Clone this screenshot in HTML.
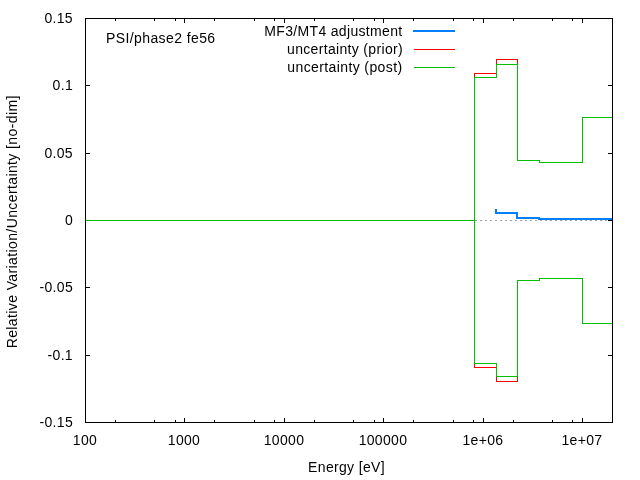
<!DOCTYPE html>
<html><head><meta charset="utf-8"><style>
html,body{margin:0;padding:0;background:#fff;width:640px;height:480px;overflow:hidden}
svg{display:block}
text{-webkit-font-smoothing:antialiased;font-family:"Liberation Sans",sans-serif;font-size:14px;letter-spacing:0.33px;fill:#000}
</style></head><body>
<svg width="640" height="480" viewBox="0 0 640 480" style="will-change:transform">
<rect width="640" height="480" fill="#fff"/>
<g shape-rendering="crispEdges">
<path d="M85 220.5H612" stroke="#a0a0a0" stroke-width="1" stroke-dasharray="2 3" fill="none"/>
<rect x="85" y="18" width="528" height="1" fill="#000"/>
<rect x="85" y="422" width="528" height="1" fill="#000"/>
<rect x="85" y="18" width="1" height="405" fill="#000"/>
<rect x="612" y="18" width="1" height="405" fill="#000"/>
<rect x="85" y="18" width="5" height="1" fill="#000"/>
<rect x="608" y="18" width="5" height="1" fill="#000"/>
<rect x="85" y="85" width="5" height="1" fill="#000"/>
<rect x="608" y="85" width="5" height="1" fill="#000"/>
<rect x="85" y="153" width="5" height="1" fill="#000"/>
<rect x="608" y="153" width="5" height="1" fill="#000"/>
<rect x="85" y="220" width="5" height="1" fill="#000"/>
<rect x="608" y="220" width="5" height="1" fill="#000"/>
<rect x="85" y="287" width="5" height="1" fill="#000"/>
<rect x="608" y="287" width="5" height="1" fill="#000"/>
<rect x="85" y="355" width="5" height="1" fill="#000"/>
<rect x="608" y="355" width="5" height="1" fill="#000"/>
<rect x="85" y="422" width="5" height="1" fill="#000"/>
<rect x="608" y="422" width="5" height="1" fill="#000"/>
<rect x="85" y="418" width="1" height="5" fill="#000"/>
<rect x="85" y="18" width="1" height="5" fill="#000"/>
<rect x="115" y="420" width="1" height="3" fill="#000"/>
<rect x="115" y="18" width="1" height="3" fill="#000"/>
<rect x="154" y="420" width="1" height="3" fill="#000"/>
<rect x="154" y="18" width="1" height="3" fill="#000"/>
<rect x="175" y="420" width="1" height="3" fill="#000"/>
<rect x="175" y="18" width="1" height="3" fill="#000"/>
<rect x="184" y="418" width="1" height="5" fill="#000"/>
<rect x="184" y="18" width="1" height="5" fill="#000"/>
<rect x="214" y="420" width="1" height="3" fill="#000"/>
<rect x="214" y="18" width="1" height="3" fill="#000"/>
<rect x="254" y="420" width="1" height="3" fill="#000"/>
<rect x="254" y="18" width="1" height="3" fill="#000"/>
<rect x="274" y="420" width="1" height="3" fill="#000"/>
<rect x="274" y="18" width="1" height="3" fill="#000"/>
<rect x="284" y="418" width="1" height="5" fill="#000"/>
<rect x="284" y="18" width="1" height="5" fill="#000"/>
<rect x="314" y="420" width="1" height="3" fill="#000"/>
<rect x="314" y="18" width="1" height="3" fill="#000"/>
<rect x="353" y="420" width="1" height="3" fill="#000"/>
<rect x="353" y="18" width="1" height="3" fill="#000"/>
<rect x="374" y="420" width="1" height="3" fill="#000"/>
<rect x="374" y="18" width="1" height="3" fill="#000"/>
<rect x="383" y="418" width="1" height="5" fill="#000"/>
<rect x="383" y="18" width="1" height="5" fill="#000"/>
<rect x="413" y="420" width="1" height="3" fill="#000"/>
<rect x="413" y="18" width="1" height="3" fill="#000"/>
<rect x="453" y="420" width="1" height="3" fill="#000"/>
<rect x="453" y="18" width="1" height="3" fill="#000"/>
<rect x="473" y="420" width="1" height="3" fill="#000"/>
<rect x="473" y="18" width="1" height="3" fill="#000"/>
<rect x="483" y="418" width="1" height="5" fill="#000"/>
<rect x="483" y="18" width="1" height="5" fill="#000"/>
<rect x="513" y="420" width="1" height="3" fill="#000"/>
<rect x="513" y="18" width="1" height="3" fill="#000"/>
<rect x="552" y="420" width="1" height="3" fill="#000"/>
<rect x="552" y="18" width="1" height="3" fill="#000"/>
<rect x="572" y="420" width="1" height="3" fill="#000"/>
<rect x="572" y="18" width="1" height="3" fill="#000"/>
<rect x="582" y="418" width="1" height="5" fill="#000"/>
<rect x="582" y="18" width="1" height="5" fill="#000"/>
<rect x="612" y="420" width="1" height="3" fill="#000"/>
<rect x="612" y="18" width="1" height="3" fill="#000"/>
<rect x="474" y="73" width="1" height="5" fill="#ff0000"/>
<rect x="474" y="73" width="23" height="1" fill="#ff0000"/>
<rect x="496" y="59" width="1" height="15" fill="#ff0000"/>
<rect x="496" y="59" width="22" height="1" fill="#ff0000"/>
<rect x="517" y="59" width="1" height="6" fill="#ff0000"/>
<rect x="474" y="363" width="1" height="5" fill="#ff0000"/>
<rect x="474" y="367" width="23" height="1" fill="#ff0000"/>
<rect x="496" y="367" width="1" height="15" fill="#ff0000"/>
<rect x="496" y="381" width="22" height="1" fill="#ff0000"/>
<rect x="517" y="376" width="1" height="6" fill="#ff0000"/>
<rect x="86" y="220" width="389" height="1" fill="#00c000"/>
<rect x="474" y="77" width="1" height="144" fill="#00c000"/>
<rect x="474" y="77" width="23" height="1" fill="#00c000"/>
<rect x="496" y="64" width="1" height="14" fill="#00c000"/>
<rect x="496" y="64" width="22" height="1" fill="#00c000"/>
<rect x="517" y="64" width="1" height="97" fill="#00c000"/>
<rect x="517" y="160" width="23" height="1" fill="#00c000"/>
<rect x="539" y="160" width="1" height="3" fill="#00c000"/>
<rect x="539" y="162" width="44" height="1" fill="#00c000"/>
<rect x="582" y="117" width="1" height="46" fill="#00c000"/>
<rect x="582" y="117" width="30" height="1" fill="#00c000"/>
<rect x="474" y="220" width="1" height="144" fill="#00c000"/>
<rect x="474" y="363" width="23" height="1" fill="#00c000"/>
<rect x="496" y="363" width="1" height="14" fill="#00c000"/>
<rect x="496" y="376" width="22" height="1" fill="#00c000"/>
<rect x="517" y="280" width="1" height="97" fill="#00c000"/>
<rect x="517" y="280" width="23" height="1" fill="#00c000"/>
<rect x="539" y="278" width="1" height="3" fill="#00c000"/>
<rect x="539" y="278" width="44" height="1" fill="#00c000"/>
<rect x="582" y="278" width="1" height="46" fill="#00c000"/>
<rect x="582" y="323" width="30" height="1" fill="#00c000"/>
<rect x="495" y="209" width="2" height="5" fill="#0080ff"/>
<rect x="495" y="212" width="23" height="2" fill="#0080ff"/>
<rect x="516" y="212" width="2" height="7" fill="#0080ff"/>
<rect x="516" y="217" width="24" height="2" fill="#0080ff"/>
<rect x="538" y="217" width="2" height="3" fill="#0080ff"/>
<rect x="538" y="218" width="74" height="2" fill="#0080ff"/>
<rect x="413" y="30" width="42" height="2" fill="#0080ff"/>
<rect x="414" y="49" width="41" height="1" fill="#ff0000"/>
<rect x="414" y="67" width="41" height="1" fill="#00c000"/>
</g>
<text x="73" y="23" text-anchor="end" >0.15</text>
<text x="73" y="90" text-anchor="end" >0.1</text>
<text x="73" y="158" text-anchor="end" >0.05</text>
<text x="73" y="225" text-anchor="end" >0</text>
<text x="73" y="292" text-anchor="end" >-0.05</text>
<text x="73" y="360" text-anchor="end" >-0.1</text>
<text x="73" y="427" text-anchor="end" >-0.15</text>
<text x="85" y="445" text-anchor="middle" >100</text>
<text x="184" y="445" text-anchor="middle" >1000</text>
<text x="284" y="445" text-anchor="middle" >10000</text>
<text x="383" y="445" text-anchor="middle" >100000</text>
<text x="483" y="445" text-anchor="middle" >1e+06</text>
<text x="582" y="445" text-anchor="middle" >1e+07</text>
<text x="346.5" y="472" text-anchor="middle" >Energy [eV]</text>
<text x="17" y="221.8" text-anchor="middle" transform="rotate(-90 17 221.8)" style="letter-spacing:0.39px">Relative Variation/Uncertainty [no-dim]</text>
<text x="106" y="43" text-anchor="start" style="letter-spacing:0.4px">PSI/phase2 fe56</text>
<text x="402.5" y="36" text-anchor="end" >MF3/MT4 adjustment</text>
<text x="403" y="54" text-anchor="end" >uncertainty (prior)</text>
<text x="402.5" y="72" text-anchor="end" style="letter-spacing:0.39px">uncertainty (post)</text>
</svg></body></html>
